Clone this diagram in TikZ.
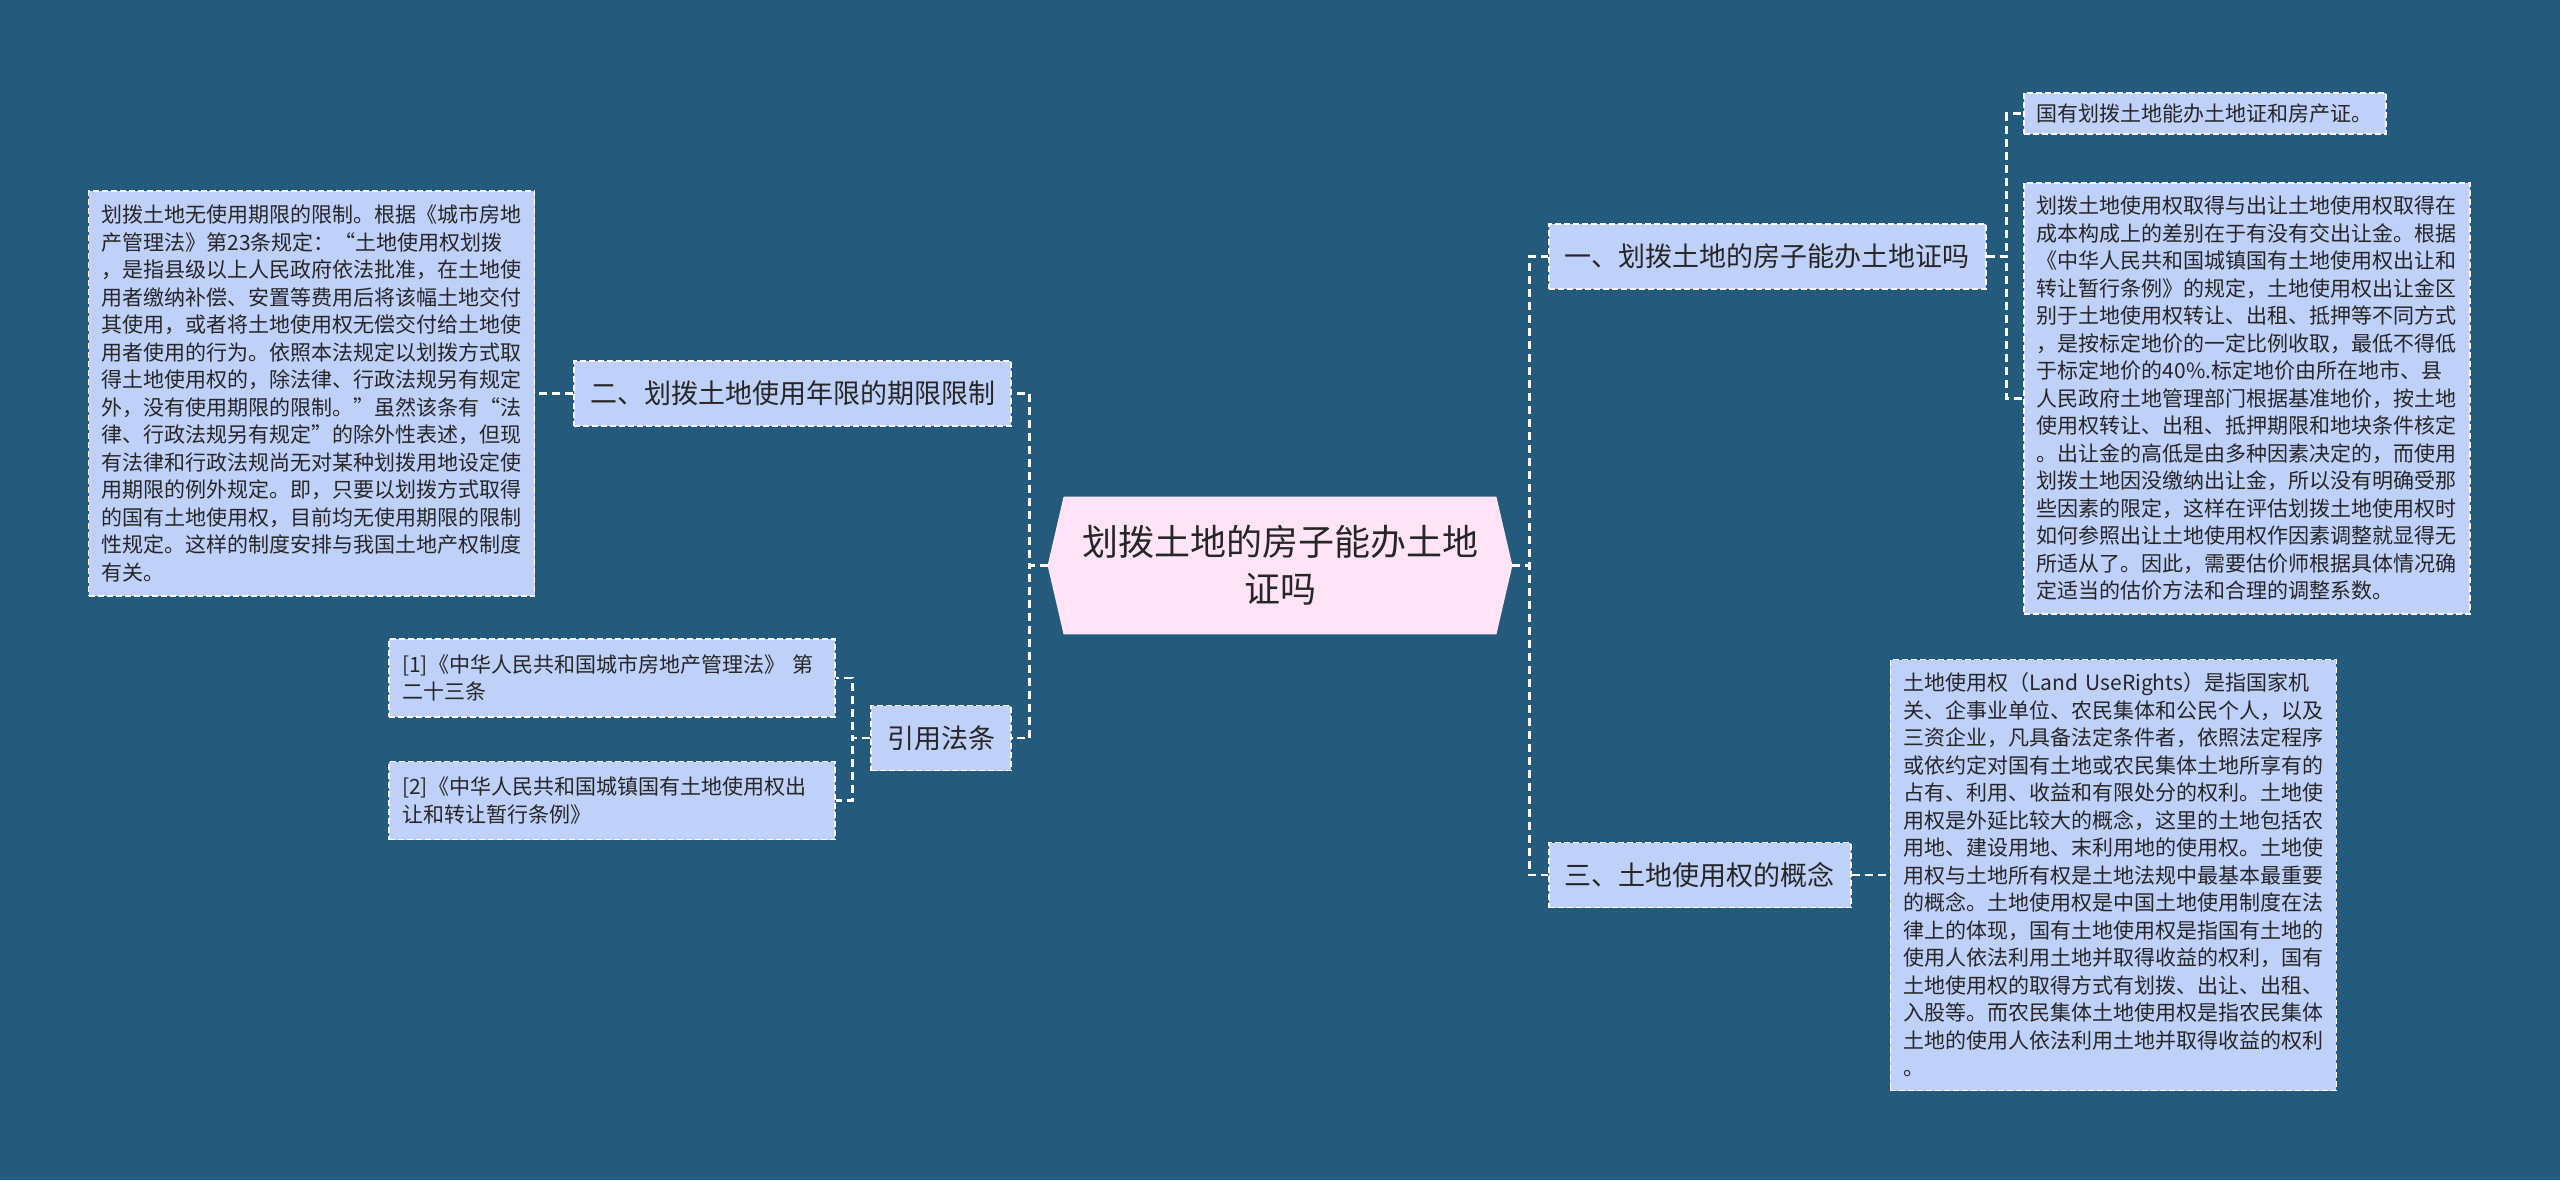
\documentclass[tikz,border=0pt]{standalone}
\usepackage{fontspec}
\setmainfont{Noto Sans CJK SC}
\usepackage{xcolor}
\usetikzlibrary{positioning, backgrounds}

\definecolor{bgblue}{HTML}{245A7C}
\definecolor{leafblue}{HTML}{BFD0F9}
\definecolor{rootpink}{HTML}{FFE4F8}
\definecolor{inkgray}{HTML}{262626}

\begin{document}
\begin{tikzpicture}[
    x=0.5pt, y=-0.5pt,
    rootbox/.style={rectangle, minimum width=232pt, minimum height=68.5pt, text width=200pt, align=center, inner sep=0pt, text=inkgray, font=\fontsize{18}{23.5}\selectfont},
    topic/.style={rectangle, draw=white, fill=leafblue, dash pattern=on 3pt off 1.5pt, line width=0.8pt, inner xsep=8pt, inner ysep=0pt, minimum height=32.5pt, text=inkgray, font=\fontsize{13.5}{16}\selectfont},
    leaf/.style={rectangle, draw=white, fill=leafblue, dash pattern=on 3pt off 1.5pt, line width=0.8pt, inner xsep=6.5pt, inner ysep=0pt, text width=210pt, align=left, text=inkgray, font=\fontsize{10.5}{13.75}\selectfont},
    link/.style={draw=white, line width=1.2pt, dash pattern=on 4pt off 2.5pt}
]
\useasboundingbox (0,0) rectangle (2560,1180);

% Central topic
\node [rootbox] (root) at (1280,565.5) {划拨土地的房子能办土地\\证吗};

% Left side: term limit and cited law
\node [topic, anchor=east] (limit) at (1012,393.5) {二、划拨土地使用年限的期限限制};
\node [leaf, left=19pt of limit, minimum height=202.5pt] (limittext) {划拨土地无使用期限的限制。根据《城市房地\\
产管理法》第23条规定：“土地使用权划拨\\
，是指县级以上人民政府依法批准，在土地使\\
用者缴纳补偿、安置等费用后将该幅土地交付\\
其使用，或者将土地使用权无偿交付给土地使\\
用者使用的行为。依照本法规定以划拨方式取\\
得土地使用权的，除法律、行政法规另有规定\\
外，没有使用期限的限制。”虽然该条有“法\\
律、行政法规另有规定”的除外性表述，但现\\
有法律和行政法规尚无对某种划拨用地设定使\\
用期限的例外规定。即，只要以划拨方式取得\\
的国有土地使用权，目前均无使用期限的限制\\
性规定。这样的制度安排与我国土地产权制度\\
有关。};
\node [topic, anchor=east] (cite) at (1012,738) {引用法条};
\node [leaf, anchor=east, minimum height=39pt] (citea) at (836,678) {[1]《中华人民共和国城市房地产管理法》 第\\
二十三条};
\node [leaf, below=21.5pt of citea, minimum height=39pt] (citeb) {[2]《中华人民共和国城镇国有土地使用权出\\
让和转让暂行条例》};

% Right side: certificate and concept
\node [topic, anchor=west] (cert) at (1548,256.5) {一、划拨土地的房子能办土地证吗};
\node [leaf, anchor=west, text width=168pt, minimum height=20.5pt] (certnote) at (2023,113.5) {国有划拨土地能办土地证和房产证。};
\node [leaf, anchor=west, minimum height=215.5pt] (certtext) at (2023,398.5) {划拨土地使用权取得与出让土地使用权取得在\\
成本构成上的差别在于有没有交出让金。根据\\
《中华人民共和国城镇国有土地使用权出让和\\
转让暂行条例》的规定，土地使用权出让金区\\
别于土地使用权转让、出租、抵押等不同方式\\
，是按标定地价的一定比例收取，最低不得低\\
于标定地价的40\%.标定地价由所在地市、县\\
人民政府土地管理部门根据基准地价，按土地\\
使用权转让、出租、抵押期限和地块条件核定\\
。出让金的高低是由多种因素决定的，而使用\\
划拨土地因没缴纳出让金，所以没有明确受那\\
些因素的限定，这样在评估划拨土地使用权时\\
如何参照出让土地使用权作因素调整就显得无\\
所适从了。因此，需要估价师根据具体情况确\\
定适当的估价方法和合理的调整系数。};
\node [topic, anchor=west] (concept) at (1548,875) {三、土地使用权的概念};
\node [leaf, right=19pt of concept, minimum height=215.5pt] (concepttext) {土地使用权（Land UseRights）是指国家机\\
关、企事业单位、农民集体和公民个人，以及\\
三资企业，凡具备法定条件者，依照法定程序\\
或依约定对国有土地或农民集体土地所享有的\\
占有、利用、收益和有限处分的权利。土地使\\
用权是外延比较大的概念，这里的土地包括农\\
用地、建设用地、末利用地的使用权。土地使\\
用权与土地所有权是土地法规中最基本最重要\\
的概念。土地使用权是中国土地使用制度在法\\
律上的体现，国有土地使用权是指国有土地的\\
使用人依法利用土地并取得收益的权利，国有\\
土地使用权的取得方式有划拨、出让、出租、\\
入股等。而农民集体土地使用权是指农民集体\\
土地的使用人依法利用土地并取得收益的权利\\
。};

% Connections
\path [link] (root.west) -- ++(-18,0) |- (limit.east);
\path [link] (root.west) -- ++(-18,0) |- (cite.east);
\path [link] (root.east) -- ++(17,0) |- (cert.west);
\path [link] (root.east) -- ++(17,0) |- (concept.west);
\path [link] (limit.west) -- ++(-19,0) |- (limittext.east);
\path [link] (cite.west) -- ++(-18,0) |- (citea.east);
\path [link] (cite.west) -- ++(-18,0) |- (citeb.east);
\path [link] (cert.east) -- ++(20,0) |- (certnote.west);
\path [link] (cert.east) -- ++(20,0) |- (certtext.west);
\path [link] (concept.east) -- (concepttext.west);

% Backdrop and hexagon of the central topic
\begin{scope}[on background layer]
\fill [bgblue] (0,0) rectangle (2560,1180);
\fill [rootpink] (root.west) -- ([xshift=8pt]root.north west) -- ([xshift=-8pt]root.north east) -- (root.east) -- ([xshift=-8pt]root.south east) -- ([xshift=8pt]root.south west) -- cycle;
\end{scope}

\end{tikzpicture}
\end{document}
